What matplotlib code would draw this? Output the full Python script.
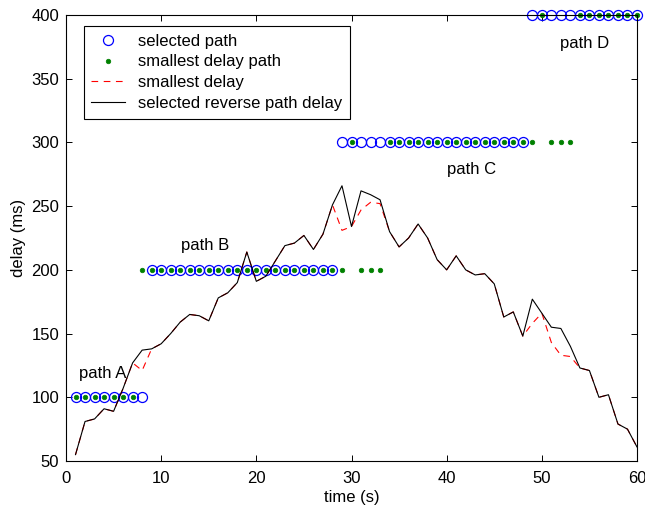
import numpy as np
import matplotlib
matplotlib.use("Agg")
import matplotlib.pyplot as plt

plt.rcParams['font.family'] = ['Liberation Sans', 'DejaVu Sans']

# =========================
# Data
# =========================
t = np.arange(1, 61)

# selected path (100 = path A, 200 = B, 300 = C, 400 = D)
selected_path = [100] * 8 + [200] * 20 + [300] * 20 + [400] * 12

# smallest delay path
smallest_path = ([100] * 7 + [200] * 22 + [300] + [200] * 3 + [300] * 16
                 + [400] + [300] * 3 + [400] * 7)

# selected reverse path delay (ms)
reverse_delay = [55, 81, 83, 91, 89, 107, 127, 137, 138, 142,
                 150, 159, 165, 164, 160, 178, 182, 190, 214, 191,
                 195, 207, 219, 221, 227, 216, 228, 251, 266, 234,
                 262, 259, 255, 230, 218, 225, 236, 225, 208, 200,
                 211, 200, 196, 197, 189, 163, 167, 148, 177, 166,
                 155, 154, 140, 123, 121, 100, 102, 79, 75, 61]

# smallest delay (ms), differs where selected path != smallest delay path
smallest_delay = list(reverse_delay)
smallest_delay[8 - 1] = 121
smallest_delay[29 - 1] = 231
smallest_delay[31 - 1] = 247
smallest_delay[32 - 1] = 253
smallest_delay[33 - 1] = 252
smallest_delay[49 - 1] = 158
smallest_delay[51 - 1] = 143
smallest_delay[52 - 1] = 133
smallest_delay[53 - 1] = 132

path_labels = ["path A", "path B", "path C", "path D"]
label_pos = [(3.9, 119), (14.6, 219), (42.6, 279), (54.5, 378)]

# =========================
# Plot
# =========================
fig = plt.figure(figsize=(6.45, 5.13), dpi=100)
ax = fig.add_axes([66 / 645, 1 - 461 / 513, (637 - 66) / 645, (461 - 15) / 513])

ax.plot(t, selected_path, 'o', mfc='none', mec='blue', ms=7.2, mew=0.9,
        clip_on=False, label="selected path")
ax.plot(t, smallest_path, 'o', mfc='green', mec='green', ms=3.3, mew=0.5,
        clip_on=False, label="smallest delay path")
ax.plot(t, smallest_delay, color='red', lw=0.8, linestyle=(0, (6, 5)),
        label="smallest delay")
ax.plot(t, reverse_delay, color='black', lw=0.8,
        label="selected reverse path delay")

for lab, (x, y) in zip(path_labels, label_pos):
    ax.text(x, y, lab, ha='center', va='center', fontsize=12)

ax.set_xlim(0, 60)
ax.set_ylim(50, 400)
ax.set_xticks(np.arange(0, 61, 10))
ax.set_yticks(np.arange(50, 401, 50))
ax.tick_params(direction='in', top=True, right=True, length=4, width=0.7,
               labelsize=12)
ax.tick_params(axis='x', pad=7)
ax.tick_params(axis='y', pad=5)
for s in ax.spines.values():
    s.set_linewidth(0.8)

ax.set_xlabel("time (s)", fontsize=12, labelpad=3)
ax.set_ylabel("delay (ms)", fontsize=12, labelpad=4)

leg = ax.legend(loc='upper left', bbox_to_anchor=(0.031, 0.975),
                fontsize=12, frameon=True, fancybox=False, framealpha=1,
                edgecolor='black', labelspacing=0.35, handlelength=2.0,
                handletextpad=0.8, borderpad=0.45, borderaxespad=0)
leg.get_frame().set_linewidth(0.8)

fig.savefig("out.png", dpi=100)
